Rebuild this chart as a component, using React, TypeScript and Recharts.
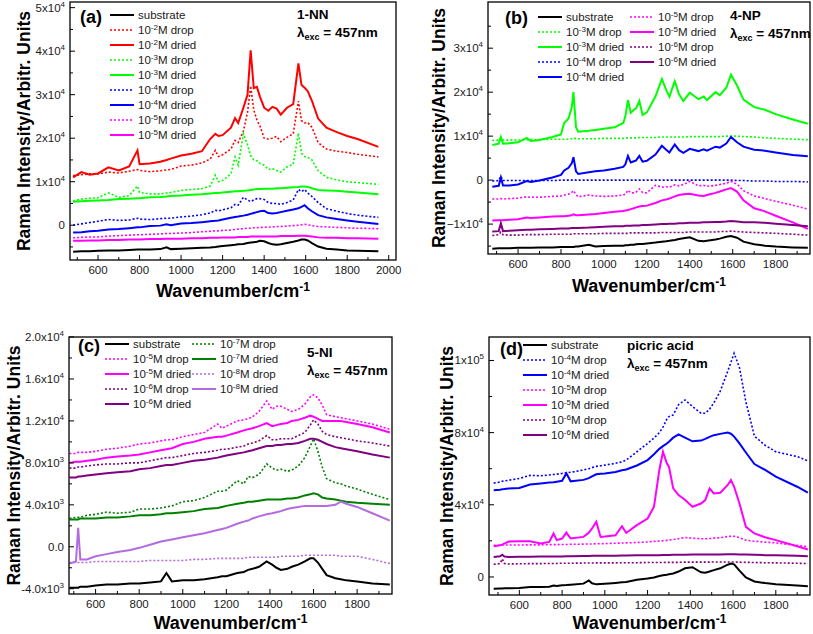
import { LineChart, Line, XAxis, YAxis } from "recharts";

const FONT = "'Liberation Sans', Arial, Helvetica, sans-serif";

// ---------- panel (a) 1-NN, values in 10^3 counts ----------
const wnA = [480, 520, 560, 600, 650, 700, 750, 790, 800, 850, 900, 930, 950, 1000, 1050, 1100, 1140, 1165, 1180, 1200, 1240, 1260, 1275, 1300, 1320, 1335, 1350, 1365, 1380, 1400, 1420, 1440, 1460, 1480, 1510, 1540, 1565, 1580, 1595, 1610, 1630, 1660, 1700, 1750, 1800, 1850, 1950];
const aSubstrate = [-6.1, -6.0, -6.0, -5.9, -5.8, -5.8, -5.7, -5.6, -5.6, -5.6, -5.5, -5.1, -5.5, -5.4, -5.3, -5.2, -5.1, -5.0, -4.9, -4.8, -4.6, -4.5, -4.4, -4.3, -4.1, -4.0, -3.9, -3.8, -3.6, -3.7, -4.1, -4.4, -4.5, -4.4, -4.1, -3.8, -3.5, -3.3, -3.3, -3.5, -4.1, -4.9, -5.4, -5.6, -5.8, -5.9, -6.0];
const aDrop2 = [11.4, 11.6, 11.8, 11.8, 12.2, 12.0, 12.4, 12.8, 12.6, 12.3, 12.5, 12.7, 12.8, 13.6, 13.8, 14.3, 15.2, 17.2, 15.8, 16.2, 17.5, 19.5, 19.0, 21.6, 26.0, 32.0, 26.5, 24.2, 22.8, 20.0, 19.8, 20.0, 20.4, 19.2, 20.2, 21.0, 28.5, 24.0, 23.5, 23.6, 22.5, 19.0, 17.5, 17.0, 16.7, 16.3, 15.7];
const aDried2 = [11.0, 12.2, 11.6, 11.9, 13.3, 12.6, 13.5, 17.2, 14.0, 14.2, 14.6, 15.0, 15.3, 16.0, 16.4, 17.0, 19.8, 21.0, 20.5, 20.7, 22.4, 24.6, 23.5, 27.0, 30.0, 40.2, 31.5, 31.8, 29.5, 27.0, 26.3, 27.2, 26.8, 25.4, 27.0, 27.8, 37.2, 32.2, 31.6, 30.8, 28.6, 24.5, 22.4, 21.4, 20.5, 19.8, 18.0];
const aDrop3 = [5.6, 6.0, 6.2, 6.3, 7.4, 6.4, 6.8, 9.0, 7.5, 7.2, 7.2, 7.4, 7.5, 8.0, 8.2, 8.4, 9.0, 11.5, 10.0, 10.3, 11.8, 15.7, 13.8, 21.0, 18.5, 16.0, 15.0, 14.8, 14.2, 13.8, 12.8, 13.0, 12.6, 12.2, 13.4, 14.0, 21.2, 16.5, 15.8, 15.6, 15.0, 12.5, 11.0, 10.4, 10.0, 9.8, 9.4];
const aDried3 = [5.4, 5.5, 5.6, 5.7, 5.8, 6.0, 6.1, 6.2, 6.2, 6.4, 6.5, 6.6, 6.7, 6.8, 7.0, 7.1, 7.3, 7.4, 7.4, 7.5, 7.7, 7.8, 7.8, 7.9, 8.0, 8.1, 8.2, 8.3, 8.3, 8.4, 8.4, 8.4, 8.5, 8.5, 8.6, 8.7, 8.8, 8.9, 8.9, 8.8, 8.5, 8.1, 8.0, 7.9, 7.7, 7.5, 7.1];
const aDrop4 = [0.0, 0.3, 0.6, 0.9, 1.3, 1.1, 1.2, 1.6, 1.4, 1.3, 1.5, 1.6, 1.6, 1.9, 2.1, 2.4, 2.8, 3.4, 3.3, 3.5, 4.0, 4.8, 4.6, 6.4, 5.8, 5.4, 5.8, 6.1, 6.1, 5.9, 5.2, 5.0, 5.0, 4.8, 5.2, 5.8, 8.2, 7.7, 8.2, 7.4, 6.6, 5.2, 3.8, 3.2, 2.7, 2.3, 1.8];
const aDried4 = [-1.7, -1.6, -1.4, -1.3, -1.0, -0.9, -0.7, -0.5, -0.5, -0.2, -0.1, 0.2, 0.0, 0.4, 0.5, 0.7, 0.9, 1.0, 1.1, 1.3, 1.7, 1.9, 2.0, 2.2, 2.4, 2.6, 2.8, 3.0, 3.2, 3.3, 2.8, 2.7, 2.8, 3.0, 3.3, 3.6, 3.9, 4.2, 4.6, 3.9, 3.2, 2.3, 1.8, 1.4, 1.1, 0.8, 0.3];
const aDrop5 = [-2.9, -2.8, -2.7, -2.7, -2.5, -2.4, -2.3, -2.2, -2.2, -2.1, -2.0, -1.9, -1.9, -1.8, -1.7, -1.5, -1.4, -1.3, -1.3, -1.2, -1.1, -1.0, -0.9, -0.8, -0.7, -0.7, -0.6, -0.6, -0.5, -0.5, -0.4, -0.4, -0.3, -0.3, -0.2, -0.1, 0.0, 0.1, 0.2, 0.1, -0.1, -0.3, -0.4, -0.5, -0.6, -0.7, -0.8];
const aDried5 = [-3.6, -3.6, -3.5, -3.5, -3.4, -3.4, -3.3, -3.3, -3.3, -3.2, -3.2, -3.1, -3.1, -3.1, -3.0, -3.0, -2.9, -2.9, -2.9, -2.8, -2.8, -2.8, -2.7, -2.7, -2.7, -2.6, -2.6, -2.6, -2.6, -2.6, -2.6, -2.6, -2.6, -2.5, -2.5, -2.5, -2.4, -2.4, -2.4, -2.5, -2.6, -2.8, -2.9, -2.9, -3.0, -3.0, -3.1];

// ---------- panel (b) 4-NP ----------
const wnB = [480, 510, 520, 530, 560, 600, 640, 660, 700, 760, 800, 815, 835, 850, 858, 870, 880, 930, 960, 1000, 1050, 1090, 1100, 1112, 1125, 1140, 1150, 1165, 1180, 1200, 1240, 1270, 1290, 1305, 1330, 1350, 1370, 1400, 1440, 1465, 1480, 1520, 1540, 1570, 1592, 1620, 1650, 1700, 1750, 1800, 1880, 1950];
const bSubstrate = [-15.6, -15.5, -15.5, -15.5, -15.5, -15.4, -15.4, -15.4, -15.3, -15.3, -15.2, -15.2, -15.2, -15.2, -15.2, -15.1, -15.1, -14.7, -15.1, -15.0, -14.9, -14.9, -14.8, -14.8, -14.7, -14.7, -14.6, -14.5, -14.5, -14.4, -14.2, -14.0, -13.9, -13.8, -13.6, -13.4, -13.2, -13.0, -13.8, -13.9, -13.8, -13.5, -13.3, -12.9, -12.7, -13.1, -14.0, -14.6, -14.9, -15.1, -15.3, -15.4];
const bDrop3 = [9.0, 9.1, 9.6, 9.1, 9.1, 9.1, 9.2, 9.2, 9.2, 9.3, 9.3, 9.3, 9.3, 9.4, 9.6, 9.4, 9.4, 9.4, 9.4, 9.5, 9.5, 9.5, 9.5, 9.6, 9.6, 9.6, 9.6, 9.7, 9.7, 9.7, 9.7, 9.8, 9.8, 9.8, 9.8, 9.8, 9.8, 9.9, 9.9, 9.9, 9.9, 9.9, 9.9, 10.0, 10.0, 10.0, 9.9, 9.8, 9.6, 9.5, 9.3, 9.2];
const bDried3 = [8.0, 8.3, 9.8, 8.3, 8.4, 8.6, 9.6, 8.9, 9.1, 9.8, 10.4, 13.0, 14.0, 16.5, 20.0, 12.0, 11.0, 11.2, 11.4, 11.7, 12.0, 13.0, 14.5, 18.2, 15.3, 16.0, 16.3, 18.0, 14.8, 15.4, 19.0, 23.0, 20.5, 19.0, 22.5, 19.5, 18.0, 19.9, 18.4, 19.0, 18.2, 20.0, 19.3, 21.0, 24.0, 21.5, 18.3, 16.6, 16.0, 15.0, 13.8, 12.8];
const bDrop4 = [-0.2, -0.1, 0.9, -0.1, -0.1, -0.1, -0.1, -0.1, -0.1, -0.1, 0.0, 0.0, 0.0, 0.0, 0.1, 0.0, 0.0, 0.0, 0.0, 0.0, 0.0, 0.0, 0.0, 0.0, 0.0, 0.0, 0.0, 0.0, 0.0, 0.0, 0.0, 0.0, 0.0, 0.0, 0.0, 0.0, 0.0, 0.0, 0.0, 0.0, 0.0, 0.0, 0.0, 0.0, 0.0, -0.1, -0.1, -0.2, -0.2, -0.3, -0.3, -0.4];
const bDried4 = [-1.5, -1.3, 0.6, -1.2, -1.2, -1.0, -0.2, -0.4, -0.1, 0.6, 1.2, 2.2, 2.8, 3.8, 5.2, 2.0, 1.4, 1.8, 2.0, 2.2, 2.6, 3.0, 3.6, 5.5, 4.0, 4.3, 4.5, 5.5, 4.2, 4.4, 5.8, 7.8, 6.9, 6.3, 8.1, 6.8, 6.2, 7.1, 6.6, 7.0, 6.7, 7.6, 7.4, 8.3, 9.8, 8.6, 7.6, 6.9, 6.7, 6.3, 5.7, 5.4];
const bDrop5 = [-4.3, -4.3, -4.2, -4.3, -4.2, -4.1, -3.8, -3.9, -3.9, -3.7, -3.6, -3.4, -3.2, -2.8, -2.4, -3.3, -3.8, -3.4, -3.6, -3.7, -3.6, -3.4, -3.2, -2.3, -2.9, -2.9, -2.7, -2.0, -2.8, -2.9, -1.2, -1.6, -1.5, -1.6, -1.1, -1.3, -1.0, -0.3, -1.3, -1.2, -1.4, -1.2, -1.0, -0.7, -0.3, -0.9, -2.4, -3.6, -4.2, -4.8, -5.7, -6.6];
const bDried5 = [-9.2, -9.1, -9.1, -9.1, -9.0, -8.9, -8.5, -8.6, -8.5, -8.3, -8.2, -8.2, -8.1, -8.0, -7.8, -8.0, -8.0, -7.8, -7.7, -7.5, -7.2, -7.0, -6.9, -6.8, -6.6, -6.4, -6.2, -6.0, -5.9, -5.8, -5.2, -4.6, -4.4, -4.2, -3.7, -3.4, -3.2, -3.1, -3.5, -3.6, -3.4, -2.9, -2.6, -2.1, -1.8, -2.6, -4.6, -6.4, -7.1, -8.1, -9.6, -11.1];
const bDrop6 = [-12.6, -12.4, -11.8, -12.4, -12.5, -12.5, -12.4, -12.4, -12.4, -12.3, -12.3, -12.3, -12.3, -12.3, -12.2, -12.2, -12.2, -12.2, -12.2, -12.1, -12.1, -12.1, -12.1, -12.1, -12.0, -12.0, -12.0, -12.0, -12.0, -12.0, -12.0, -11.9, -11.9, -11.9, -11.9, -11.9, -11.9, -11.8, -11.8, -11.8, -11.8, -11.8, -11.7, -11.7, -11.6, -11.7, -11.8, -11.9, -12.0, -12.1, -12.3, -12.5];
const bDried6 = [-11.7, -11.6, -9.8, -11.6, -11.5, -11.4, -11.3, -11.3, -11.2, -11.1, -11.0, -11.0, -11.0, -10.9, -10.9, -10.9, -10.9, -10.8, -10.7, -10.6, -10.5, -10.5, -10.4, -10.4, -10.4, -10.3, -10.3, -10.3, -10.2, -10.2, -10.1, -10.0, -10.0, -9.9, -9.9, -9.8, -9.8, -9.7, -9.7, -9.6, -9.6, -9.5, -9.5, -9.4, -9.3, -9.4, -9.6, -9.6, -9.7, -9.9, -10.2, -10.5];

// ---------- panel (c) 5-NI ----------
const wnC = [480, 510, 520, 530, 560, 600, 650, 700, 760, 800, 850, 900, 925, 950, 1000, 1050, 1100, 1160, 1180, 1200, 1250, 1280, 1300, 1320, 1350, 1385, 1410, 1430, 1450, 1480, 1500, 1530, 1560, 1585, 1600, 1620, 1640, 1660, 1700, 1725, 1750, 1800, 1870, 1950];
const cSubstrate = [-3.9, -3.9, -3.9, -3.8, -3.8, -3.7, -3.6, -3.6, -3.5, -3.5, -3.4, -3.3, -2.5, -3.3, -3.2, -3.2, -3.1, -2.9, -2.8, -2.8, -2.5, -2.4, -2.2, -2.1, -1.9, -1.4, -1.7, -2.0, -2.2, -2.1, -1.9, -1.7, -1.4, -1.1, -1.1, -1.5, -2.1, -2.7, -3.0, -3.1, -3.2, -3.3, -3.5, -3.6];
const cDrop5 = [8.9, 8.9, 9.0, 9.0, 9.0, 9.1, 9.3, 9.4, 9.6, 9.8, 9.9, 10.1, 10.2, 10.2, 10.5, 10.7, 10.9, 11.7, 11.3, 11.5, 12.0, 12.1, 12.2, 12.4, 12.9, 13.9, 13.1, 13.4, 13.4, 13.1, 12.9, 13.1, 13.6, 14.3, 14.5, 14.2, 13.5, 12.6, 12.4, 12.3, 12.2, 12.0, 11.7, 11.2];
const cDried5 = [8.0, 8.1, 8.1, 8.1, 8.2, 8.3, 8.5, 8.6, 8.7, 8.8, 9.0, 9.2, 9.3, 9.4, 9.8, 10.0, 10.3, 10.5, 10.5, 10.6, 10.9, 11.1, 11.2, 11.3, 11.5, 11.8, 11.5, 11.6, 11.7, 11.8, 12.0, 12.1, 12.3, 12.5, 12.4, 12.2, 12.0, 12.0, 12.0, 12.0, 11.9, 11.7, 11.4, 10.9];
const cDrop6 = [7.5, 7.5, 7.6, 7.6, 7.7, 7.8, 7.9, 7.9, 8.0, 8.0, 8.2, 8.4, 8.5, 8.5, 8.7, 8.9, 9.0, 9.2, 9.3, 9.3, 9.5, 9.6, 9.8, 9.9, 10.1, 10.6, 10.2, 10.2, 10.3, 10.3, 10.3, 10.6, 10.9, 11.6, 12.1, 11.7, 11.0, 10.7, 10.5, 10.4, 10.3, 10.1, 9.9, 9.6];
const cDried6 = [6.6, 6.6, 6.7, 6.7, 6.8, 6.9, 7.0, 7.1, 7.2, 7.4, 7.5, 7.7, 7.8, 7.8, 8.0, 8.2, 8.3, 8.5, 8.6, 8.7, 8.9, 9.0, 9.1, 9.2, 9.4, 9.6, 9.6, 9.7, 9.7, 9.8, 9.8, 9.9, 10.1, 10.3, 10.3, 10.2, 10.0, 9.8, 9.5, 9.4, 9.3, 9.1, 8.8, 8.5];
const cDrop7 = [2.7, 2.8, 2.8, 2.8, 3.0, 3.1, 3.3, 3.2, 3.3, 3.6, 3.6, 3.7, 3.8, 3.9, 4.3, 4.4, 4.7, 5.3, 5.3, 5.4, 6.3, 6.0, 6.7, 6.6, 6.9, 7.9, 7.5, 7.3, 7.4, 7.2, 7.3, 7.7, 8.5, 9.6, 10.3, 9.1, 7.6, 6.5, 6.1, 6.0, 5.8, 5.5, 5.0, 4.5];
const cDried7 = [2.6, 2.6, 2.6, 2.7, 2.7, 2.7, 2.8, 2.8, 2.9, 3.0, 3.0, 3.1, 3.2, 3.2, 3.3, 3.4, 3.6, 3.7, 3.8, 3.9, 4.1, 4.2, 4.3, 4.3, 4.4, 4.5, 4.5, 4.5, 4.5, 4.6, 4.6, 4.7, 4.9, 5.0, 5.1, 5.0, 4.7, 4.6, 4.5, 4.4, 4.3, 4.2, 4.1, 4.0];
const cDrop8 = [-1.5, -1.5, -1.5, -1.5, -1.5, -1.4, -1.4, -1.4, -1.4, -1.4, -1.3, -1.3, -1.3, -1.3, -1.3, -1.2, -1.2, -1.1, -1.1, -1.1, -1.1, -1.1, -1.0, -1.0, -1.0, -1.0, -1.0, -1.0, -0.9, -0.9, -0.9, -0.9, -0.8, -0.8, -0.8, -0.8, -0.8, -0.8, -0.8, -0.9, -0.9, -0.9, -1.2, -1.6];
const cDried8 = [-1.6, -1.4, 1.8, -1.2, -1.2, -0.9, -0.7, -0.5, -0.3, -0.1, 0.2, 0.5, 0.6, 0.7, 0.9, 1.1, 1.3, 1.6, 1.7, 1.8, 2.2, 2.4, 2.5, 2.7, 2.9, 3.1, 3.2, 3.3, 3.4, 3.6, 3.7, 3.8, 3.9, 3.9, 3.9, 3.9, 3.9, 3.9, 4.0, 4.3, 4.1, 3.8, 3.2, 2.5];

// ---------- panel (d) picric acid ----------
const wnD = [480, 510, 520, 530, 550, 600, 650, 700, 740, 760, 775, 800, 820, 840, 900, 925, 940, 960, 980, 1000, 1050, 1080, 1100, 1150, 1200, 1230, 1255, 1272, 1290, 1300, 1320, 1345, 1375, 1410, 1450, 1470, 1490, 1510, 1540, 1575, 1590, 1605, 1630, 1660, 1700, 1750, 1800, 1900, 1950];
const dSubstrate = [-6.5, -6.4, -6.4, -6.3, -6.3, -6.1, -5.6, -5.6, -5.4, -4.8, -5.0, -4.6, -4.5, -4.3, -3.7, -1.9, -3.5, -4.1, -3.9, -3.7, -3.3, -3.0, -2.8, -1.5, -0.9, -0.3, 0.5, 0.9, 1.2, 1.5, 1.9, 3.0, 4.8, 5.4, 2.6, 2.4, 3.0, 3.8, 4.8, 6.8, 7.4, 7.0, 3.5, -0.3, -2.5, -3.4, -4.1, -4.8, -5.2];
const dDrop4 = [52.0, 52.6, 53.0, 53.2, 53.6, 54.6, 56.3, 56.1, 56.5, 56.8, 57.0, 57.4, 57.8, 58.0, 59.3, 60.0, 60.6, 61.3, 61.6, 62.0, 63.0, 63.8, 64.8, 69.4, 74.0, 77.0, 80.0, 83.0, 87.5, 88.9, 89.8, 95.5, 98.1, 94.5, 90.8, 90.7, 93.0, 96.5, 103.0, 114.0, 119.0, 124.0, 116.0, 97.0, 78.0, 73.0, 69.4, 66.7, 64.3];
const dDried4 = [48.1, 48.4, 48.6, 48.7, 49.0, 49.3, 51.2, 51.8, 52.3, 52.5, 52.8, 53.3, 57.4, 53.0, 53.8, 54.8, 55.8, 56.9, 57.2, 57.4, 58.2, 59.1, 59.6, 61.8, 64.8, 68.0, 71.0, 72.5, 74.0, 75.0, 77.2, 79.0, 77.2, 75.2, 75.6, 76.5, 77.6, 78.6, 79.3, 80.0, 79.4, 77.8, 74.0, 69.0, 62.6, 59.3, 55.6, 50.0, 46.7];
const dDrop5 = [17.6, 17.6, 17.7, 17.7, 17.7, 17.7, 17.8, 17.8, 17.9, 17.9, 17.9, 18.0, 18.0, 18.1, 18.2, 18.3, 18.3, 18.4, 18.4, 18.5, 18.7, 18.8, 18.9, 19.1, 19.4, 19.7, 19.9, 20.1, 20.3, 20.4, 20.7, 21.2, 21.9, 21.5, 21.2, 21.2, 21.3, 21.5, 21.8, 22.4, 22.6, 22.5, 21.8, 20.4, 19.8, 19.3, 18.9, 17.5, 16.7];
const dDried5 = [17.0, 17.6, 17.9, 18.5, 19.6, 19.8, 19.8, 18.5, 19.4, 24.1, 20.4, 21.3, 24.6, 21.3, 22.2, 24.5, 26.9, 30.6, 22.2, 22.4, 23.1, 28.1, 24.4, 28.7, 32.4, 38.9, 59.3, 69.4, 63.0, 61.1, 49.1, 45.4, 42.8, 38.9, 40.7, 42.6, 49.1, 46.3, 46.7, 51.0, 53.7, 50.0, 40.7, 27.8, 24.1, 22.0, 20.4, 17.0, 15.2];
const dDrop6 = [7.0, 7.4, 10.0, 7.5, 7.2, 7.3, 7.4, 7.4, 7.5, 7.5, 7.5, 7.6, 7.6, 7.6, 7.7, 7.7, 7.7, 7.8, 7.8, 7.8, 7.8, 7.9, 7.9, 7.9, 8.0, 8.0, 8.0, 8.0, 8.1, 8.1, 8.1, 8.1, 8.2, 8.2, 8.2, 8.2, 8.2, 8.3, 8.3, 8.3, 8.3, 8.3, 8.2, 8.1, 8.0, 7.9, 7.8, 7.6, 7.4];
const dDried6 = [11.1, 11.5, 12.3, 11.3, 11.1, 11.2, 11.2, 11.3, 11.3, 11.4, 11.4, 11.4, 11.5, 11.5, 11.6, 11.6, 11.7, 11.7, 11.7, 11.8, 11.8, 11.9, 11.9, 12.0, 12.0, 12.1, 12.1, 12.2, 12.2, 12.2, 12.3, 12.3, 12.3, 12.4, 12.4, 12.4, 12.4, 12.5, 12.5, 12.6, 12.6, 12.6, 12.5, 12.4, 12.3, 12.1, 12.0, 11.7, 11.5];

// ---------- axis ticks ----------
const xMajorA = [600, 800, 1000, 1200, 1400, 1600, 1800, 2000];
const xMinorA = [500, 700, 900, 1100, 1300, 1500, 1700, 1900];
const xMajor = [600, 800, 1000, 1200, 1400, 1600, 1800];
const xMinor = [500, 700, 900, 1100, 1300, 1500, 1700, 1900];

const yLabelsA = [[0, "0"], [10, "1x10", "4"], [20, "2x10", "4"], [30, "3x10", "4"], [40, "4x10", "4"], [50, "5x10", "4"]];
const yMinorA = [-5, 5, 15, 25, 35, 45];
const yLabelsB = [[-10, "\u22121x10", "4"], [0, "0"], [10, "1x10", "4"], [20, "2x10", "4"], [30, "3x10", "4"]];
const yMinorB = [-15, -5, 5, 15, 25, 35];
const yLabelsC = [[-4, "-4.0x10", "3"], [0, "0.0"], [4, "4.0x10", "3"], [8, "8.0x10", "3"], [12, "1.2x10", "4"], [16, "1.6x10", "4"], [20, "2.0x10", "4"]];
const yMinorC = [-2, 2, 6, 10, 14, 18];
const yLabelsD = [[0, "0"], [40, "4x10", "4"], [80, "8x10", "4"], [120, "1x10", "5"]];
const yMinorD = [20, 60, 100];

const BLACK = "#000000";
const RED = "#ff0000";
const GREEN = "#00ff00";
const BLUE = "#0000ff";
const MAGENTA = "#ff00ff";
const PURPLE = "#800080";
const DKGREEN = "#008000";
const VIOLET = "#b36be0";

function mk(key: string, values: number[], color: string, dotted: boolean, exp?: string) {
  return { key, values, color, dotted, exp };
}

const panels = [
  {
    tag: "(a)", name: "1-NN", left: 0, top: 0, width: 406, height: 310,
    margin: { top: 2, right: 10, bottom: 49, left: 69 },
    xDomain: [465, 2035], yDomain: [-8, 51.3],
    xMajor: xMajorA, xMinor: xMinorA, yLabels: yLabelsA, yMinor: yMinorA,
    wn: wnA,
    series: [
      mk("sub", aSubstrate, BLACK, false),
      mk("drop2", aDrop2, RED, true, "-2"),
      mk("dried2", aDried2, RED, false, "-2"),
      mk("drop3", aDrop3, GREEN, true, "-3"),
      mk("dried3", aDried3, GREEN, false, "-3"),
      mk("drop4", aDrop4, BLUE, true, "-4"),
      mk("dried4", aDried4, BLUE, false, "-4"),
      mk("drop5", aDrop5, MAGENTA, true, "-5"),
      mk("dried5", aDried5, MAGENTA, false, "-5"),
    ],
    legend: [{ x: 110, y: 15, keys: ["sub", "drop2", "dried2", "drop3", "dried3", "drop4", "dried4", "drop5", "dried5"] }],
    tagPos: [80, 23], namePos: [297, 19], yTitleX: 30, xTitleY: 297,
  },
  {
    tag: "(b)", name: "4-NP", left: 406, top: 0, width: 407, height: 310,
    margin: { top: 2, right: 3, bottom: 55, left: 81 },
    xDomain: [460, 1960], yDomain: [-16.8, 40.5],
    xMajor, xMinor, yLabels: yLabelsB, yMinor: yMinorB,
    wn: wnB,
    series: [
      mk("sub", bSubstrate, BLACK, false),
      mk("drop3", bDrop3, GREEN, true, "-3"),
      mk("dried3", bDried3, GREEN, false, "-3"),
      mk("drop4", bDrop4, BLUE, true, "-4"),
      mk("dried4", bDried4, BLUE, false, "-4"),
      mk("drop5", bDrop5, MAGENTA, true, "-5"),
      mk("dried5", bDried5, MAGENTA, false, "-5"),
      mk("drop6", bDrop6, PURPLE, true, "-6"),
      mk("dried6", bDried6, PURPLE, false, "-6"),
    ],
    legend: [
      { x: 132, y: 17, keys: ["sub", "drop3", "dried3", "drop4", "dried4"] },
      { x: 224, y: 17, keys: ["drop5", "dried5", "drop6", "dried6"] },
    ],
    tagPos: [99, 24], namePos: [324, 20], yTitleX: 39, xTitleY: 292,
  },
  {
    tag: "(c)", name: "5-NI", left: 0, top: 310, width: 406, height: 324,
    margin: { top: 27, right: 14, bottom: 39, left: 68 },
    xDomain: [478, 1960], yDomain: [-4.5, 20],
    xMajor, xMinor, yLabels: yLabelsC, yMinor: yMinorC,
    wn: wnC,
    series: [
      mk("sub", cSubstrate, BLACK, false),
      mk("drop5", cDrop5, MAGENTA, true, "-5"),
      mk("dried5", cDried5, MAGENTA, false, "-5"),
      mk("drop6", cDrop6, PURPLE, true, "-6"),
      mk("dried6", cDried6, PURPLE, false, "-6"),
      mk("drop7", cDrop7, DKGREEN, true, "-7"),
      mk("dried7", cDried7, DKGREEN, false, "-7"),
      mk("drop8", cDrop8, VIOLET, true, "-8"),
      mk("dried8", cDried8, VIOLET, false, "-8"),
    ],
    legend: [
      { x: 105, y: 34, keys: ["sub", "drop5", "dried5", "drop6", "dried6"] },
      { x: 192, y: 34, keys: ["drop7", "dried7", "drop8", "dried8"] },
    ],
    tagPos: [78, 42], namePos: [307, 47], yTitleX: 20, xTitleY: 319,
  },
  {
    tag: "(d)", name: "picric acid", left: 406, top: 310, width: 407, height: 324,
    margin: { top: 27, right: 3, bottom: 38, left: 82 },
    xDomain: [458, 1960], yDomain: [-10, 133],
    xMajor, xMinor, yLabels: yLabelsD, yMinor: yMinorD,
    wn: wnD,
    series: [
      mk("sub", dSubstrate, BLACK, false),
      mk("drop4", dDrop4, BLUE, true, "-4"),
      mk("dried4", dDried4, BLUE, false, "-4"),
      mk("drop5", dDrop5, MAGENTA, true, "-5"),
      mk("dried5", dDried5, MAGENTA, false, "-5"),
      mk("drop6", dDrop6, PURPLE, true, "-6"),
      mk("dried6", dDried6, PURPLE, false, "-6"),
    ],
    legend: [{ x: 117, y: 35, keys: ["sub", "drop4", "dried4", "drop5", "dried5", "drop6", "dried6"] }],
    tagPos: [94, 45], namePos: [221, 40], yTitleX: 47, xTitleY: 319,
  },
];

function XTick(props: any) {
  const { x, y, payload, majors } = props;
  const major = majors.includes(payload.value);
  return (
    <g>
      <line x1={x} x2={x} y1={y} y2={y - (major ? 5 : 3)} stroke="#000" strokeWidth={1} />
      {major && (
        <text x={x} y={y + 14} textAnchor="middle" fontSize={11.5} fill="#1a1a1a" fontFamily={FONT}>
          {payload.value}
        </text>
      )}
    </g>
  );
}

function YTick(props: any) {
  const { x, y, payload, labels } = props;
  const lab = labels.find((l: any) => l[0] === payload.value);
  return (
    <g>
      <line x1={x} x2={x + (lab ? 5 : 3)} y1={y} y2={y} stroke="#000" strokeWidth={1} />
      {lab && (
        <text x={x - 5} y={y + 4} textAnchor="end" fontSize={11.5} fill="#1a1a1a" fontFamily={FONT}>
          {lab[1]}
          {lab[2] && (
            <tspan dy={-5} fontSize={8}>
              {lab[2]}
            </tspan>
          )}
        </text>
      )}
    </g>
  );
}

function LegendLabel({ s }: any) {
  if (!s.exp) return <>substrate</>;
  return (
    <>
      10
      <tspan dy={-4} fontSize={8}>{s.exp}</tspan>
      <tspan dy={4}>{s.dotted ? "M drop" : "M dried"}</tspan>
    </>
  );
}

function Panel({ p }: any) {
  const data = p.wn.map((w: number, i: number) => {
    const row: any = { w };
    p.series.forEach((s: any) => (row[s.key] = s.values[i]));
    return row;
  });
  // plot box (axes are 1px thick, placed just outside)
  const plotL = p.margin.left + 1;
  const plotR = p.width - p.margin.right;
  const plotT = p.margin.top;
  const plotB = p.height - p.margin.bottom - 1;
  const cx = (plotL + plotR) / 2;
  const cy = (plotT + plotB) / 2;
  const byKey: any = {};
  p.series.forEach((s: any) => (byKey[s.key] = s));

  return (
    <div style={{ position: "absolute", left: p.left, top: p.top, width: p.width, height: p.height }}>
      <LineChart width={p.width} height={p.height} data={data} margin={p.margin}>
        <XAxis
          dataKey="w" type="number" domain={p.xDomain} allowDataOverflow
          ticks={[...p.xMajor, ...p.xMinor].sort((a, b) => a - b)} interval={0}
          height={1} tickSize={0} tickMargin={0} axisLine={false} tickLine={false}
          tick={(t: any) => <XTick {...t} majors={p.xMajor} />}
        />
        <YAxis
          type="number" domain={p.yDomain} allowDataOverflow
          ticks={[...p.yLabels.map((l: any) => l[0]), ...p.yMinor].sort((a, b) => a - b)} interval={0}
          width={1} tickSize={0} tickMargin={0} axisLine={false} tickLine={false}
          tick={(t: any) => <YTick {...t} labels={p.yLabels} />}
        />
        {p.series.map((s: any) => (
          <Line
            key={s.key} type="linear" dataKey={s.key} stroke={s.color}
            strokeWidth={s.dotted ? 1.6 : 2} strokeDasharray={s.dotted ? "2 2" : undefined}
            dot={false} activeDot={false} isAnimationActive={false}
          />
        ))}
      </LineChart>
      <svg
        width={p.width} height={p.height}
        style={{ position: "absolute", left: 0, top: 0, pointerEvents: "none" }}
        fontFamily={FONT}
      >
        <rect x={plotL} y={plotT} width={plotR - plotL} height={plotB - plotT} fill="none" stroke="#000" strokeWidth={1.3} />
        <text
          transform={`translate(${p.yTitleX}, ${cy}) rotate(-90)`} textAnchor="middle"
          fontSize={17.5} fontWeight="bold"
        >
          Raman Intensity/Arbitr. Units
        </text>
        <text x={cx} y={p.xTitleY} textAnchor="middle" fontSize={18} fontWeight="bold">
          Wavenumber/cm<tspan dy={-6} fontSize={12}>-1</tspan>
        </text>
        <text x={p.tagPos[0]} y={p.tagPos[1]} fontSize={18} fontWeight="bold">{p.tag}</text>
        <text x={p.namePos[0]} y={p.namePos[1]} fontSize={13.5} fontWeight="bold">{p.name}</text>
        <text x={p.namePos[0]} y={p.namePos[1] + 18} fontSize={13.5} fontWeight="bold">
          λ<tspan dy={3} fontSize={9}>exc</tspan><tspan dy={-3}> = 457nm</tspan>
        </text>
        {p.legend.map((col: any, ci: number) =>
          col.keys.map((k: string, ri: number) => {
            const s = byKey[k];
            const yy = col.y + ri * 15;
            return (
              <g key={`${ci}-${k}`}>
                <line
                  x1={col.x} x2={col.x + 24} y1={yy} y2={yy} stroke={s.color}
                  strokeWidth={s.dotted ? 1.6 : 2} strokeDasharray={s.dotted ? "2 2" : undefined}
                />
                <text x={col.x + 28} y={yy + 4} fontSize={11.5} fill="#1a1a1a">
                  <LegendLabel s={s} />
                </text>
              </g>
            );
          })
        )}
      </svg>
    </div>
  );
}

export default function App() {
  return (
    <div style={{ position: "absolute", left: 0, top: 0, width: 813, height: 634, background: "#fff", overflow: "hidden" }}>
      {panels.map((p) => (
        <Panel key={p.tag} p={p} />
      ))}
    </div>
  );
}
